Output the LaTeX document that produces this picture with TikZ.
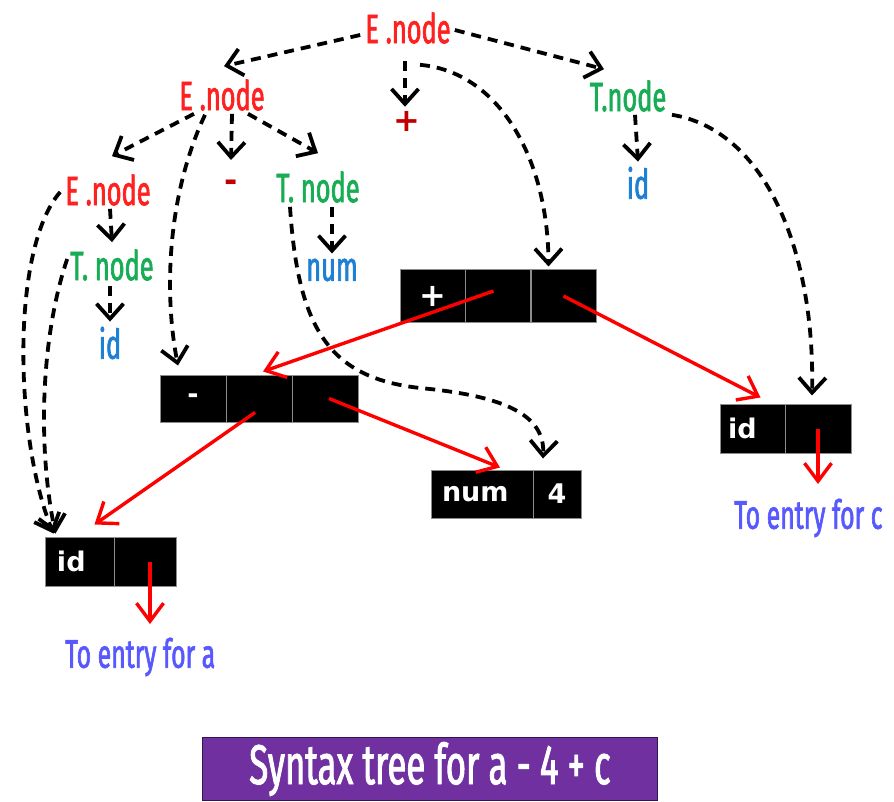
\documentclass[tikz,border=0pt]{standalone}
\usepackage{fontspec}
\setmainfont[FakeStretch=0.62,FakeBold=1.6]{Fira Sans}
\newfontfamily\cellfont{DejaVu Sans}
\usetikzlibrary{arrows.meta}

\definecolor{ered}{RGB}{255,32,32}
\definecolor{tgreen}{RGB}{24,172,84}
\definecolor{leafblue}{RGB}{30,128,210}
\definecolor{opred}{RGB}{192,0,0}
\definecolor{entryblue}{RGB}{88,88,255}
\definecolor{titlepurple}{RGB}{112,48,160}
\definecolor{titleedge}{RGB}{50,20,80}

\tikzset{
  lbl/.style={font=\fontsize{41}{41}\selectfont, inner sep=1pt},
  enode/.style={lbl, text=ered},
  tnode/.style={lbl, text=tgreen},
  leaf/.style={lbl, text=leafblue},
  opsym/.style={font=\cellfont\bfseries\fontsize{32}{32}\selectfont, text=opred, inner sep=1pt},
  entry/.style={font=\fontsize{40}{40}\selectfont, text=entryblue, inner sep=1pt},
  dep/.style={black, line width=3.8pt, dash pattern=on 10pt off 7pt,
    -{Straight Barb[length=15pt,width=27pt]}},
  ptr/.style={red, line width=3.4pt,
    -{Straight Barb[length=18pt,width=27pt]}},
  cell/.style={fill=black, draw=black!45, line width=1pt, inner sep=0pt,
    minimum width=#1, text=white, font=\cellfont\bfseries\fontsize{27}{27}\selectfont},
}

\begin{document}
\begin{tikzpicture}[x=1pt, y=-1pt]
\useasboundingbox (0,0) rectangle (894,802);

% ---- annotated parse tree ----
\node[enode] (root) at (408,28) {E .node};
\node[enode] (e1) at (222,95) {E .node};
\node[opsym] (plus) at (407,121) {+};
\node[tnode] (t1) at (628,96) {T.node};

\node[enode] (e2) at (108,190) {E .node};
\node[opsym] (minus) at (231,186) {-};
\node[tnode] (t2) at (318,187) {T. node};

\node[tnode] (t3) at (112,265) {T. node};
\node[leaf] (num) at (332,270) {num};
\node[leaf] (ida) at (110,343) {id};
\node[leaf] (idc) at (638,183) {id};

% ---- syntax tree records ----
\begin{scope}[every node/.append style={minimum height=52pt}]
  \node[cell=65pt, font=\cellfont\bfseries\fontsize{32}{32}\selectfont] (plusA) at (432.5,296) {+};
  \node[cell=65pt] (plusB) at (497.5,296) {};
  \node[cell=65pt] (plusC) at (563.5,296) {};
\end{scope}
\begin{scope}[every node/.append style={minimum height=47pt}]
  \node[cell=66pt] (minA) at (193,398.5) {-};
  \node[cell=66pt] (minB) at (259,398.5) {};
  \node[cell=66pt] (minC) at (325,398.5) {};
\end{scope}
\begin{scope}[every node/.append style={minimum height=48pt}]
  \node[cell=102pt] (numA) at (482,494)
    {\makebox[102pt][l]{\hspace{11pt}num}};
  \node[cell=48pt] (numB) at (557,494) {4};
\end{scope}
\begin{scope}[every node/.append style={minimum height=49pt}]
  \node[cell=65pt] (idcA) at (752.5,428.5)
    {\makebox[65pt][l]{\hspace{8pt}id}};
  \node[cell=66pt] (idcB) at (818,428.5) {};
  \node[cell=69pt] (idaA) at (79.5,561.5)
    {\makebox[69pt][l]{\hspace{12pt}id}};
  \node[cell=62pt] (idaB) at (145,561.5) {};
\end{scope}

\node[entry, anchor=west] (entc) at (733,518) {To entry for c};
\node[entry, anchor=west] (enta) at (64,657) {To entry for a};
\coordinate (endc) at (818,484);
\coordinate (enda) at (150,624);

% ---- caption ----
\node[fill=titlepurple, draw=titleedge, line width=1.5pt,
      minimum width=455pt, minimum height=63pt, text=white,
      font=\fontsize{56}{56}\selectfont] (title) at (430,769)
      {Syntax tree for a - 4 + c};

% ---- dashed: parse tree edges ----
\draw[dep] ([xshift=-4pt,yshift=-7pt]root.west) -- ([xshift=2pt,yshift=12pt]e1.north);
\draw[dep] ([xshift=3pt,yshift=-2pt]root.east) -- ([xshift=-24pt,yshift=10pt]t1.north);
\draw[dep] ([xshift=-3pt,yshift=-16pt]root.south) -- ([xshift=-2pt,yshift=3pt]plus.north);

\draw[dep] ([xshift=-28pt,yshift=-2pt]e1.south) -- ([xshift=4pt,yshift=17pt]e2.north);
\draw[dep] ([xshift=10pt,yshift=-2pt]e1.south) -- ([yshift=26pt]minus.center);
\draw[dep] ([xshift=26pt,yshift=-2pt]e1.south) -- ([yshift=17pt]t2.north);

\draw[dep] ([xshift=2pt,yshift=-2pt]e2.south) -- ([yshift=6pt]t3.north);
\draw[dep] ([xshift=-2pt,yshift=-4pt]t3.south) -- ([yshift=4pt]ida.north);
\draw[dep] ([xshift=14pt,yshift=-3pt]t2.south) -- ([yshift=4pt]num.north);
\draw[dep] ([xshift=7pt,yshift=-2pt]t1.south) -- ([yshift=4pt]idc.north);

% ---- dashed: pointers into the records ----
\draw[dep] ([xshift=12pt,yshift=-20pt]root.south)
  .. controls (500,72) and (548,160) .. ([xshift=-15pt,yshift=3pt]plusC.north);
\draw[dep] ([xshift=-17pt,yshift=-3pt]e1.south)
  .. controls (165,200) and (165,300) .. ([xshift=-15pt,yshift=9pt]minA.north);
\draw[dep] ([xshift=-28pt,yshift=-3pt]t2.south)
  .. controls (298,330) and (330,378) .. (420,388)
  .. controls (505,396) and (545,415) .. ([xshift=-14pt,yshift=11pt]numB.north);
\draw[dep] ([xshift=44pt,yshift=-2pt]t1.south)
  .. controls (765,130) and (815,250) .. ([xshift=-6pt,yshift=8pt]idcB.north);
\draw[dep] ([xshift=-4pt,yshift=-2pt]e2.west)
  .. controls (10,250) and (15,440) .. ([xshift=-26pt,yshift=3pt]idaA.north);
\draw[dep] ([xshift=-2pt,yshift=6pt]t3.west)
  .. controls (40,340) and (38,450) .. ([xshift=-24pt,yshift=3pt]idaA.north);

% ---- red: record pointers ----
\draw[ptr] ([xshift=-4pt,yshift=5pt]plusB.center) -- ([xshift=4pt,yshift=3pt]minB.north);
\draw[ptr] (plusC.center) -- ([xshift=8pt,yshift=6pt]idcA.north);
\draw[ptr] ([xshift=-4pt,yshift=-14pt]minB.center) -- ([xshift=15pt,yshift=12pt]idaA.north);
\draw[ptr] ([xshift=4pt]minC.center) -- ([xshift=18pt,yshift=2pt]numA.north);
\draw[ptr] (idcB.center) -- (endc);
\draw[ptr] ([xshift=5pt]idaB.center) -- (enda);
\end{tikzpicture}
\end{document}
